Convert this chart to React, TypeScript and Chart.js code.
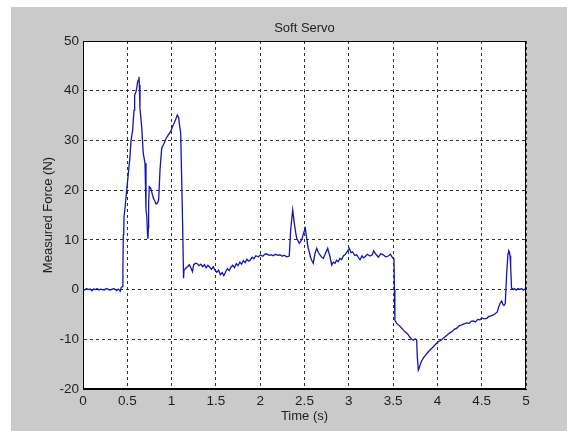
import React, { useEffect, useRef } from "react";
import { Chart, registerables } from "chart.js";

Chart.register(...registerables);

const chartTitle = "Soft Servo";
const xAxisTitle = "Time (s)";
const yAxisTitle = "Measured Force (N)";

const xMin = 0;
const xMax = 5;
const xStep = 0.5;
const yMin = -20;
const yMax = 50;
const yStep = 10;

const times = [
  0.0, 0.02, 0.04, 0.06, 0.08, 0.1, 0.12, 0.14, 0.16, 0.18, 0.2, 0.22, 0.24, 0.26, 0.28, 0.3, 0.32, 0.34, 0.36, 0.38, 0.4, 0.42,
  0.43, 0.445, 0.45, 0.455, 0.46, 0.463, 0.475, 0.493, 0.512, 0.53, 0.542, 0.56, 0.576, 0.583, 0.598, 0.606, 0.617, 0.625,
  0.632, 0.636, 0.643, 0.662, 0.68, 0.7, 0.711, 0.72, 0.728, 0.733, 0.738, 0.741, 0.748, 0.764, 0.779, 0.794, 0.813, 0.825,
  0.839, 0.854, 0.869, 0.888, 0.914, 0.937, 0.963, 0.99, 1.011, 1.027, 1.05, 1.064, 1.08, 1.087, 1.103, 1.11, 1.125, 1.135,
  1.14, 1.16, 1.18, 1.2, 1.22, 1.235, 1.25, 1.27, 1.29, 1.31, 1.33, 1.35, 1.37, 1.39, 1.41, 1.43, 1.45, 1.47, 1.49, 1.51,
  1.53, 1.55, 1.57, 1.59, 1.61, 1.63, 1.65, 1.67, 1.69, 1.71, 1.73, 1.75, 1.77, 1.79, 1.81, 1.83, 1.85, 1.87, 1.885, 1.91,
  1.93, 1.95, 1.98, 2.0, 2.03, 2.05, 2.073, 2.1, 2.125, 2.148, 2.17, 2.2, 2.223, 2.25, 2.27, 2.299, 2.328, 2.344, 2.367,
  2.385, 2.4, 2.412, 2.441, 2.468, 2.494, 2.509, 2.525, 2.54, 2.554, 2.568, 2.581, 2.599, 2.619, 2.638, 2.655, 2.675, 2.695,
  2.713, 2.735, 2.762, 2.775, 2.788, 2.807, 2.825, 2.844, 2.862, 2.882, 2.9, 2.919, 2.94, 2.957, 2.98, 3.006, 3.025, 3.043,
  3.065, 3.089, 3.11, 3.126, 3.15, 3.165, 3.183, 3.21, 3.239, 3.265, 3.28, 3.296, 3.315, 3.333, 3.36, 3.39, 3.415, 3.446,
  3.47, 3.49, 3.503, 3.51, 3.515, 3.52, 3.54, 3.559, 3.58, 3.597, 3.615, 3.634, 3.655, 3.672, 3.69, 3.71, 3.73, 3.75, 3.766,
  3.773, 3.785, 3.795, 3.804, 3.82, 3.841, 3.87, 3.898, 3.925, 3.954, 3.98, 4.01, 4.04, 4.067, 4.1, 4.12, 4.142, 4.17, 4.19,
  4.217, 4.245, 4.274, 4.3, 4.33, 4.36, 4.38, 4.405, 4.43, 4.455, 4.48, 4.5, 4.53, 4.556, 4.58, 4.61, 4.631, 4.655, 4.676,
  4.69, 4.707, 4.725, 4.74, 4.751, 4.766, 4.782, 4.797, 4.805, 4.812, 4.82, 4.827, 4.837, 4.856, 4.87, 4.89, 4.91, 4.93,
  4.95, 4.97, 4.99, 5.0,
];

const forces = [
  0.1, -0.1, 0.2, 0.0, 0.1, -0.2, 0.1, 0.0, 0.2, -0.1, 0.1, 0.0, -0.1, 0.2, 0.1, -0.1, 0.0, 0.2, 0.1, -0.2, 0.1, -0.3,
  0.4, 0.6, 3.5, 11.0, 12.0, 14.7, 16.5, 20, 23.4, 26.7, 30, 32, 36.1, 39.1, 39.8, 40.5, 41.8, 42.2,
  42.8, 41.2, 36.5, 32.8, 27.4, 25.4, 16, 14.7, 11.5, 10.2, 12.5, 17.4, 20.7, 20.4, 19.4, 18.4, 17.7, 17.2,
  17.4, 18, 24, 28.4, 29.4, 30.4, 31.1, 31.8, 32.8, 33.4, 34.4, 35.1, 34.6, 33.4, 31.4, 25.4, 12.6, 2.3,
  3.9, 4.3, 4.6, 5.0, 4.3, 3.6, 5.0, 5.3, 5.2, 4.8, 5.1, 4.6, 5.0, 4.4, 4.9, 4.5, 4.1, 4.6, 3.9, 3.5,
  3.9, 3.0, 3.4, 2.8, 3.6, 4.2, 3.8, 4.5, 4.9, 4.4, 5.2, 4.8, 5.5, 5.1, 5.8, 5.4, 6.1, 5.7, 5.9, 6.5,
  6.2, 6.8, 6.6, 6.95, 6.7, 7.1, 7.2, 6.9, 7.0, 6.8, 7.1, 6.9, 7.0, 6.7, 6.9, 6.6, 6.75, 12, 16,
  13.3, 11.5, 10.3, 9.3, 10, 11.6, 12.3, 10.3, 8.5, 7.6, 6.5, 5.9, 5.3, 7.3, 8.3, 7.5, 7.0, 6.5,
  6.3, 7.2, 8.3, 7.4, 6.6, 4.9, 5.5, 5.3, 5.9, 5.6, 6.3, 6.0, 6.8, 7.0, 7.6, 8.3, 7.4, 7.6,
  6.9, 7.0, 6.4, 6.0, 6.8, 6.4, 6.6, 7.1, 6.75, 7.0, 7.8, 7.4, 6.9, 6.5, 7.2, 7.0, 6.6, 6.75,
  7.1, 6.5, 6.3, 6.0, 0.0, -6.2, -6.8, -7.1, -7.4, -7.8, -8.1, -8.5, -8.8, -9.1, -9.6, -10.0, -10.2, -9.9, -10.1,
  -13.5, -16.2, -15.8, -15.2, -14.4, -13.8, -13.1, -12.5, -12.0, -11.5, -11.0, -10.5, -10.2, -9.8, -9.3, -9.0, -8.7, -8.4, -8.0,
  -7.8, -7.3, -7.1, -6.9, -6.7, -6.8, -6.4, -6.3, -6.5, -6.0, -6.1, -5.7, -5.9, -5.8, -5.4, -5.3, -5.1, -4.8, -4.5,
  -3.6, -2.8, -2.3, -3.0, -3.2, -2.8, 3.3, 7.3, 7.8, 7.6, 6.8, 4.6, 0.3, 0.0, 0.2, -0.1, 0.2, 0.0,
  0.2, -0.1, 0.1, 0.0,
];

const FONT = "'Liberation Sans', Arial, Helvetica, sans-serif";
const TEXT_COLOR = "#1e1e1e";
const FIG_GRAY = "#cacaca";
const LINE_COLOR = "#1414b0";

const figurePlugin = {
  id: "figurePlugin",
  beforeDraw(chart: any) {
    const { ctx, width, height, chartArea } = chart;
    ctx.save();
    ctx.fillStyle = "#ffffff";
    ctx.fillRect(0, 0, width, height);
    ctx.fillStyle = FIG_GRAY;
    ctx.fillRect(11, 7, width - 11, height - 7);
    ctx.fillStyle = "#ffffff";
    ctx.fillRect(chartArea.left, chartArea.top, chartArea.right - chartArea.left, chartArea.bottom - chartArea.top);
    ctx.restore();
  },
  afterDraw(chart: any) {
    const { ctx, chartArea } = chart;
    const { left, right, top, bottom } = chartArea;
    ctx.save();
    ctx.strokeStyle = "#000000";
    ctx.lineWidth = 1;
    ctx.strokeRect(left + 0.5, top + 0.5, right - left - 1, bottom - top - 1);
    ctx.fillStyle = TEXT_COLOR;
    ctx.font = `13px ${FONT}`;
    ctx.textAlign = "center";
    ctx.textBaseline = "middle";
    const cx = (left + right) / 2;
    ctx.fillText(chartTitle, cx, 28);
    ctx.fillText(xAxisTitle, cx, 416);
    ctx.translate(48, (top + bottom) / 2);
    ctx.rotate(-Math.PI / 2);
    ctx.fillText(yAxisTitle, 0, 0);
    ctx.restore();
  },
};

export default function App() {
  const ref = useRef<HTMLCanvasElement | null>(null);

  useEffect(() => {
    const canvas = ref.current;
    if (!canvas) return;
    const points = times.map((t, i) => ({ x: t, y: forces[i] }));
    const chart = new Chart(canvas, {
      type: "line",
      data: {
        datasets: [
          {
            data: points,
            borderColor: LINE_COLOR,
            borderWidth: 1.3,
            pointRadius: 0,
            tension: 0,
            fill: false,
          },
        ],
      },
      options: {
        animation: false,
        responsive: false,
        devicePixelRatio: 1,
        parsing: false as any,
        layout: { padding: { left: 0, top: 41, right: 41, bottom: 0 } },
        plugins: {
          legend: { display: false },
          tooltip: { enabled: false },
          title: { display: false },
        },
        scales: {
          x: {
            type: "linear",
            min: xMin,
            max: xMax,
            afterFit: (s: any) => {
              s.height = 42;
            },
            ticks: {
              stepSize: xStep,
              padding: 4,
              maxRotation: 0,
              autoSkip: false,
              color: TEXT_COLOR,
              font: { family: FONT, size: 13.5 },
              callback: (v: any) => String(Math.round(Number(v) * 10) / 10),
            },
            grid: { color: "#303030", lineWidth: 1, drawTicks: false },
            border: { display: true, color: "#000000", width: 1, dash: [3, 3] },
          },
          y: {
            type: "linear",
            min: yMin,
            max: yMax,
            afterFit: (s: any) => {
              s.width = 83;
            },
            ticks: {
              stepSize: yStep,
              padding: 4,
              color: TEXT_COLOR,
              font: { family: FONT, size: 13.5 },
              callback: (v: any) => String(v),
            },
            grid: { color: "#303030", lineWidth: 1, drawTicks: false },
            border: { display: true, color: "#000000", width: 1, dash: [3, 3] },
          },
        },
      },
      plugins: [figurePlugin],
    });
    return () => chart.destroy();
  }, []);

  return (
    <div style={{ position: "fixed", left: 0, top: 0, width: 567, height: 431, background: "#ffffff" }}>
      <canvas ref={ref} width={567} height={431} style={{ width: 567, height: 431, display: "block" }} />
    </div>
  );
}
